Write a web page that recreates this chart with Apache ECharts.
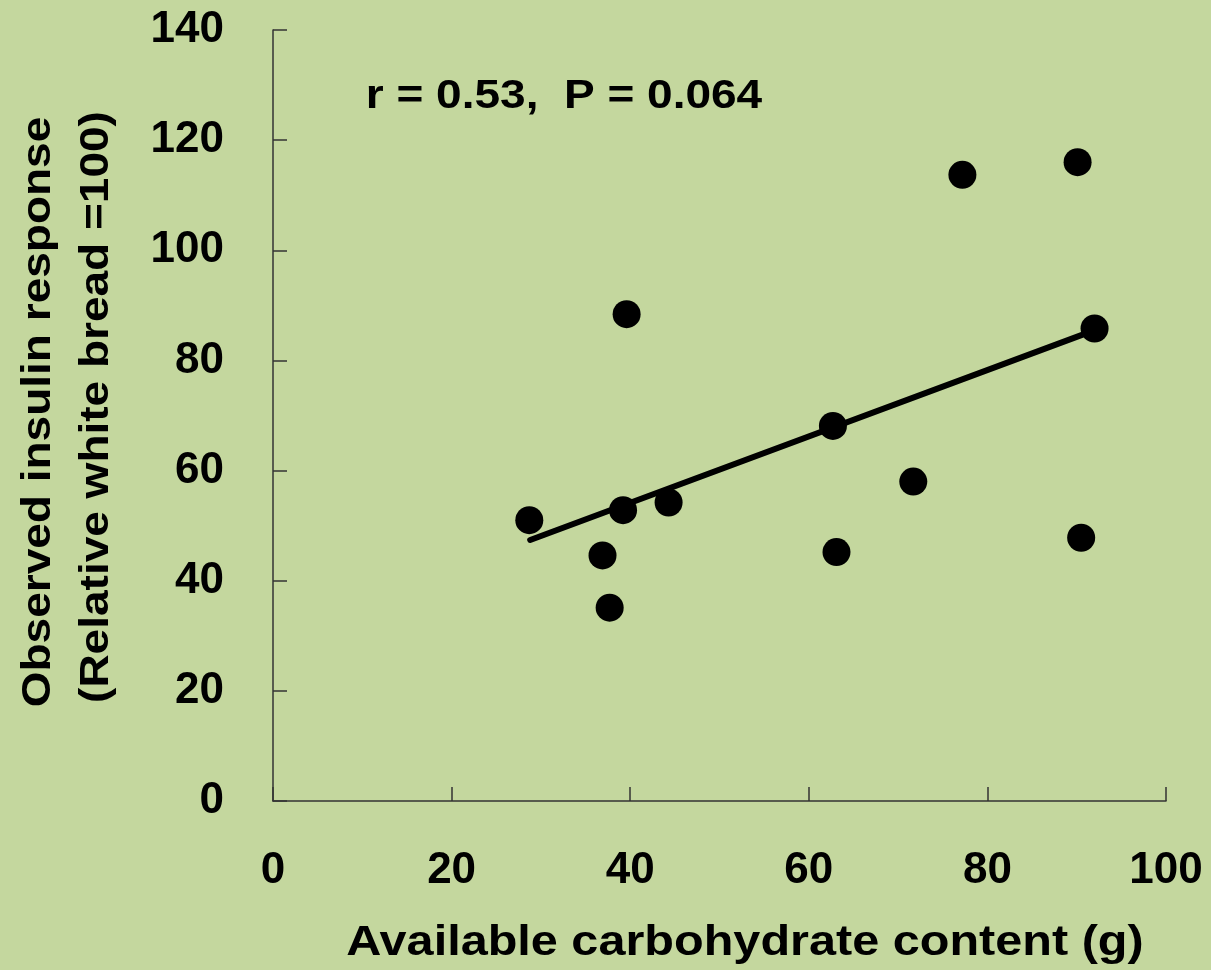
<!DOCTYPE html>
<html>
<head>
<meta charset="utf-8">
<script src="https://cdn.jsdelivr.net/npm/echarts@6/dist/echarts.min.js"></script>
<style>
  html, body { margin: 0; padding: 0; background: #c4d79e; }
  #chart { width: 1211px; height: 970px; }
</style>
</head>
<body>
<div id="chart"></div>
<script>
// carbohydrate (g) vs observed insulin response
const carbValues = [28.7, 39.2, 44.3, 36.9, 37.7, 39.6, 62.7, 63.1, 71.7, 77.2, 90.1, 90.5, 92.0];
const insulinValues = [51.0, 52.8, 54.2, 44.6, 35.1, 88.4, 68.1, 45.2, 58.0, 113.7, 116.0, 47.8, 85.8];
// regression line
const trendX = [28.8, 91.2];
const trendY = [47.4, 85.0];
const xTicks = [0, 20, 40, 60, 80, 100];
const yTicks = [0, 20, 40, 60, 80, 100, 120, 140];
const xTitle = 'Available carbohydrate content (g)';
const yTitle = ['Observed insulin response', '(Relative white bread =100)'];
const statText = 'r = 0.53,  P = 0.064';

const FONT = '"Liberation Sans", Arial, sans-serif';
const chart = echarts.init(document.getElementById('chart'));

// the original lettering is a bit wider than Arial, so stretch it sideways
function label(text, x, y, size, stretch, rotate) {
  return {
    type: 'text',
    x: x,
    y: y,
    rotation: rotate ? Math.PI / 2 : 0,
    scaleX: stretch,
    style: {
      text: text,
      fill: '#000',
      font: 'bold ' + size + 'px ' + FONT,
      textAlign: 'center',
      textVerticalAlign: 'middle'
    },
    z: 10
  };
}

const option = {
  backgroundColor: '#c4d79e',
  animation: false,
  textStyle: { fontFamily: FONT },
  graphic: [
    label(statText, 564, 97, 40, 1.15, false),
    label(xTitle, 745, 943, 43, 1.13, false),
    label(yTitle[0], 39, 412, 40, 1.15, true),
    label(yTitle[1], 97, 407, 40, 1.15, true)
  ],
  grid: { left: 273, right: 45, top: 30, bottom: 169 },
  xAxis: {
    type: 'value',
    min: xTicks[0],
    max: xTicks[xTicks.length - 1],
    interval: 20,
    axisLine: { lineStyle: { color: '#333', width: 1.5 } },
    axisTick: { inside: true, length: 14, lineStyle: { color: '#333', width: 1.5 } },
    axisLabel: { margin: 48, fontFamily: FONT, fontSize: 44, fontWeight: 'bold', color: '#000' },
    splitLine: { show: false }
  },
  yAxis: {
    type: 'value',
    min: yTicks[0],
    max: yTicks[yTicks.length - 1],
    interval: 20,
    axisLine: { lineStyle: { color: '#333', width: 1.5 } },
    axisTick: { inside: true, length: 14, lineStyle: { color: '#333', width: 1.5 } },
    axisLabel: { margin: 49, fontFamily: FONT, fontSize: 44, fontWeight: 'bold', color: '#000' },
    splitLine: { show: false }
  },
  series: [
    {
      type: 'line',
      data: trendX.map((x, i) => [x, trendY[i]]),
      symbol: 'none',
      lineStyle: { color: '#000', width: 6, cap: 'round' },
      z: 2
    },
    {
      type: 'scatter',
      data: carbValues.map((x, i) => [x, insulinValues[i]]),
      symbol: 'circle',
      symbolSize: 28,
      itemStyle: { color: '#000', opacity: 1 },
      z: 3
    }
  ]
};

chart.setOption(option);
</script>
</body>
</html>
